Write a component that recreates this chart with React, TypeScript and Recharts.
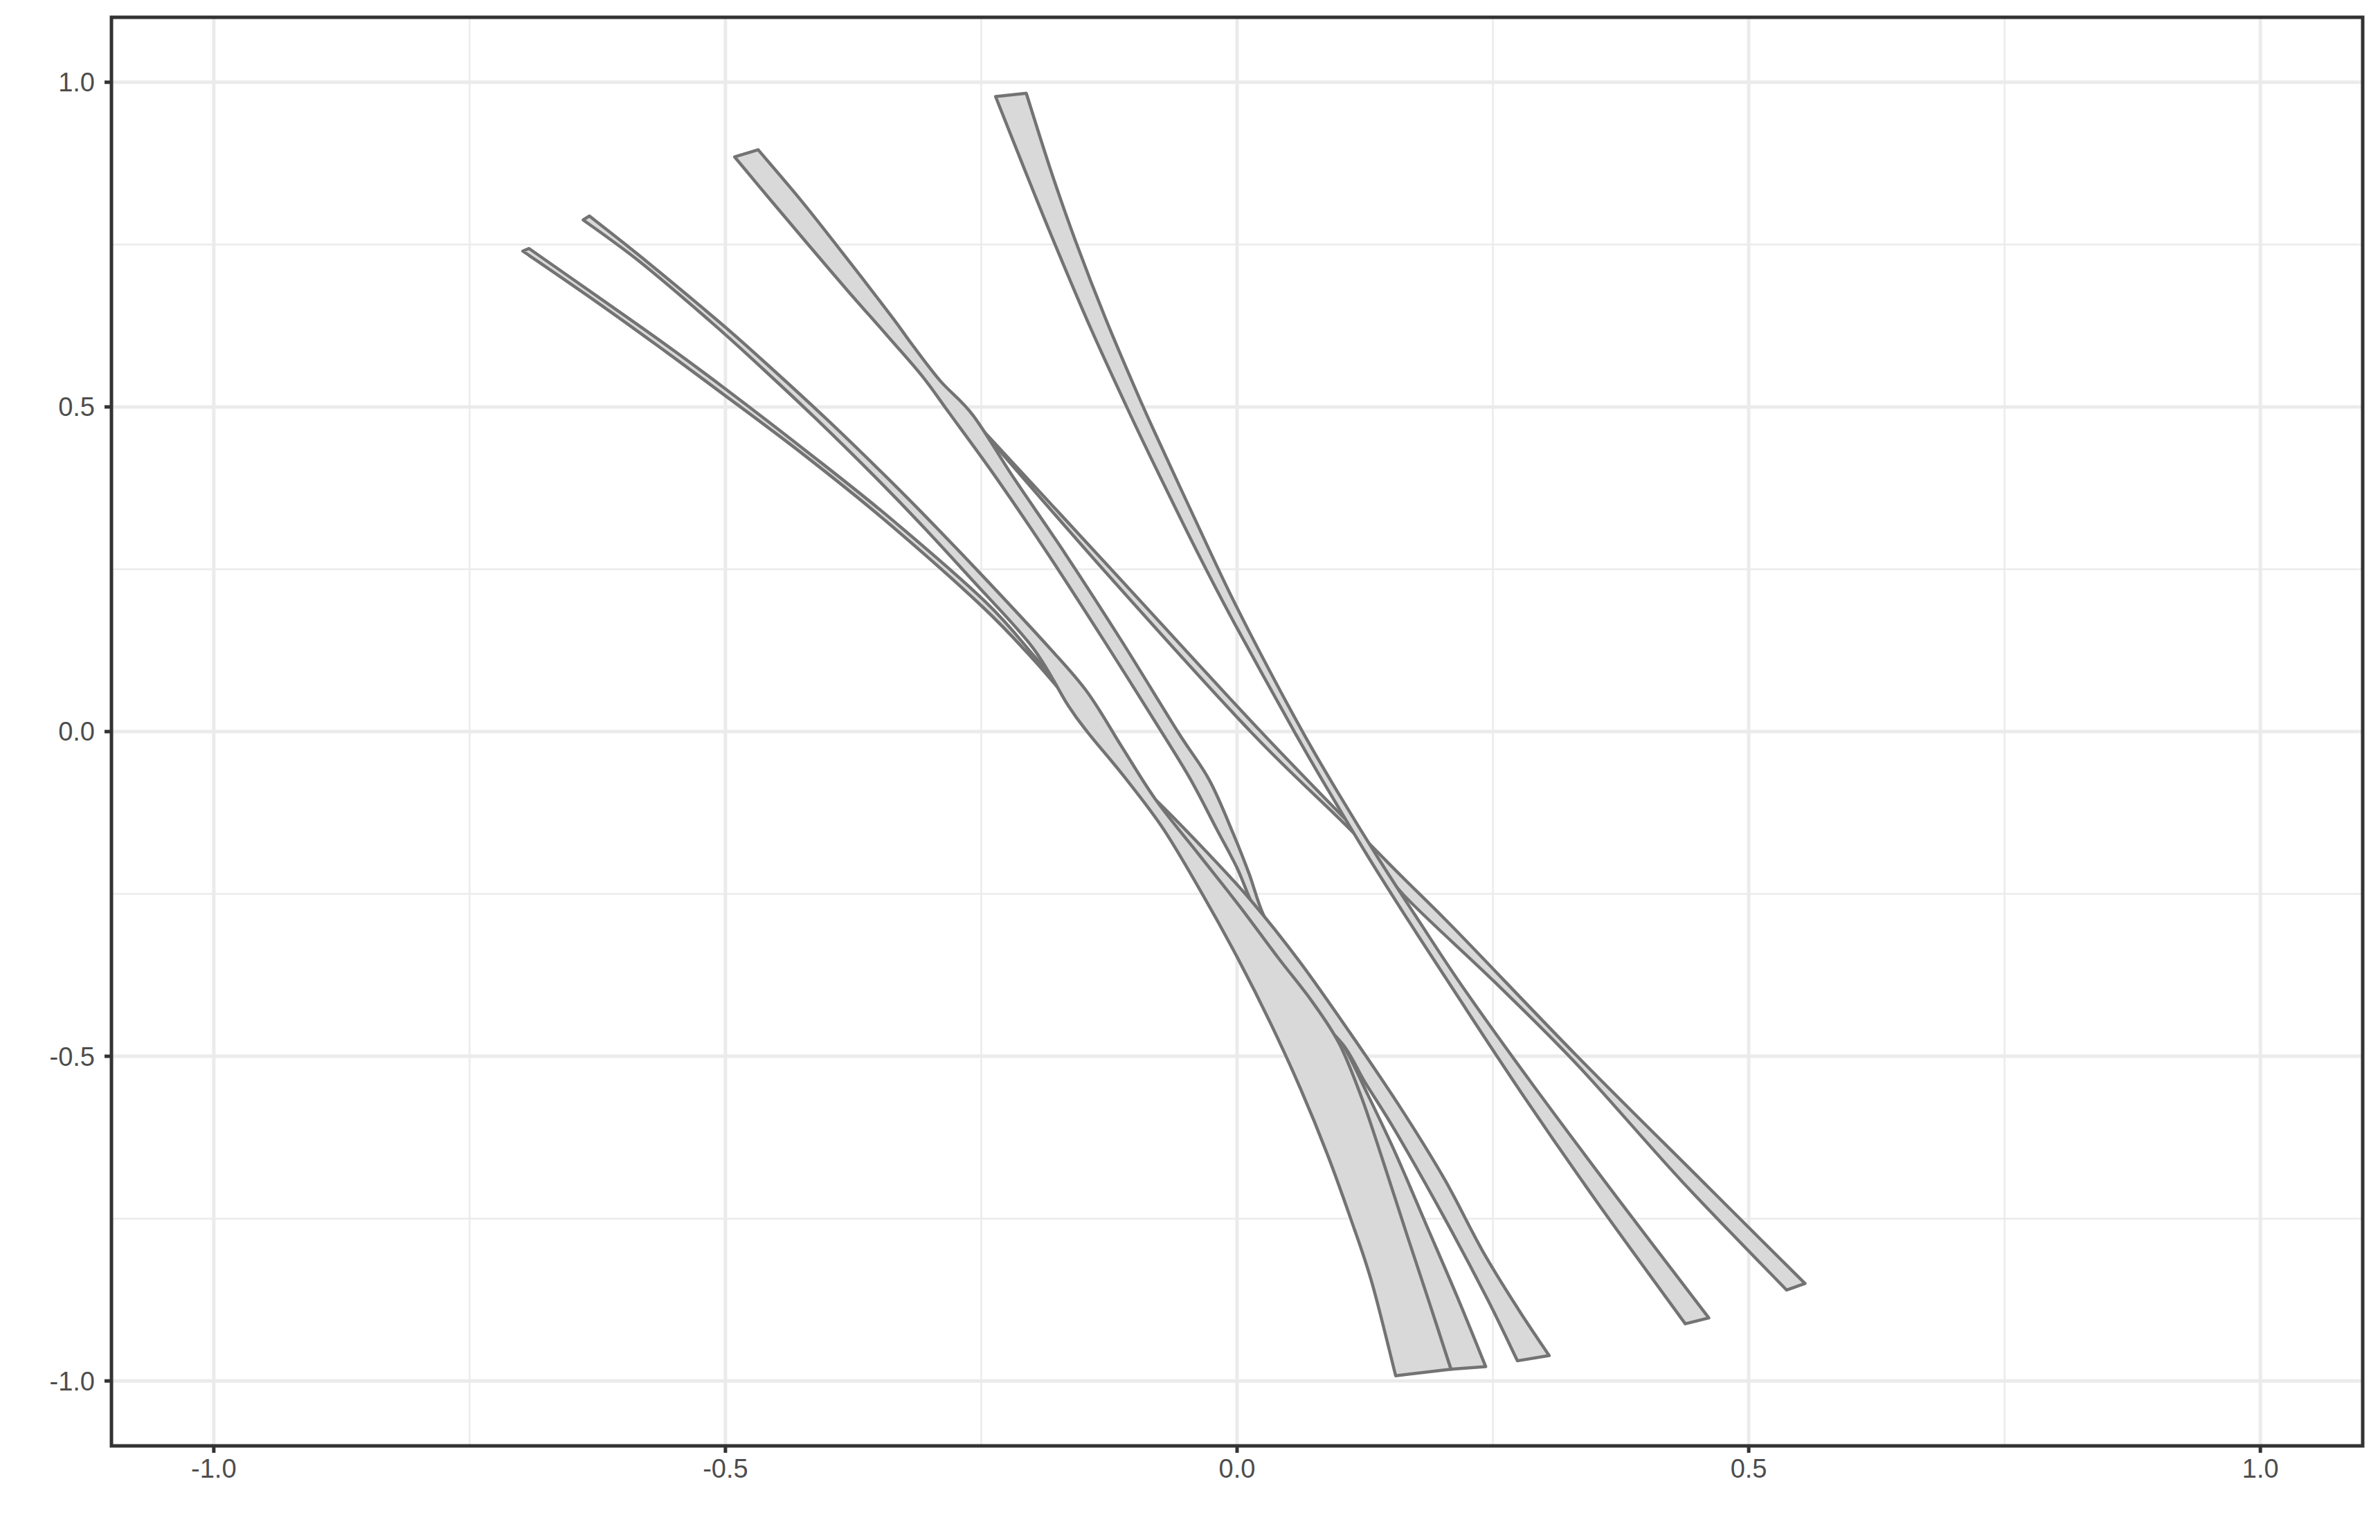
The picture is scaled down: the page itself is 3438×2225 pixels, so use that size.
import React from 'react';
import { ScatterChart, Scatter, XAxis, YAxis, CartesianGrid, ReferenceArea } from 'recharts';

const MAJOR_BREAKS = [-1, -0.5, 0, 0.5, 1];
const MINOR_BREAKS = [-0.75, -0.25, 0.25, 0.75];
const LIMITS: [number, number] = [-1.1, 1.1];

type Pt = [number, number];
interface Ribbon { down: Pt[]; up: Pt[] }

// outlines: one edge top -> bottom, the other bottom -> top
const ribbonT3B5: Ribbon = {
  down: [[-0.262, 0.487], [-0.123, 0.25], [0.025, -0.003], [0.147, -0.201], [0.212, -0.303], [0.333, -0.501], [0.455, -0.693], [0.555, -0.85]],
  up: [[0.537, -0.86], [0.435, -0.693], [0.333, -0.514], [0.252, -0.386], [0.163, -0.252], [0.118, -0.163], [0.015, -0.003], [-0.131, 0.25], [-0.262, 0.487]],
};

const ribbonT4B4: Ribbon = {
  down: [[-0.236, 0.978], [-0.209, 0.871], [-0.181, 0.762], [-0.143, 0.621], [-0.104, 0.487], [-0.076, 0.395], [-0.04, 0.28], [-0.003, 0.168],
    [0.057, -0.003], [0.089, -0.09], [0.127, -0.19], [0.167, -0.29], [0.212, -0.399], [0.279, -0.559], [0.352, -0.725], [0.438, -0.912]],
  up: [[0.461, -0.903], [0.372, -0.719], [0.29, -0.546], [0.223, -0.399], [0.177, -0.29], [0.138, -0.195], [0.099, -0.095], [0.065, -0.003],
    [0.028, 0.105], [-0.007, 0.213], [-0.042, 0.33], [-0.077, 0.449], [-0.097, 0.519], [-0.128, 0.634], [-0.158, 0.756], [-0.182, 0.864], [-0.206, 0.983]],
};

const ribbonT3B2: Ribbon = {
  down: [[-0.491, 0.885], [-0.455, 0.817], [-0.418, 0.748], [-0.38, 0.678], [-0.342, 0.61], [-0.308, 0.548], [-0.281, 0.49], [-0.235, 0.39],
    [-0.185, 0.274], [-0.13, 0.14], [-0.074, 0.0], [-0.045, -0.075], [-0.02, -0.15], [0.0, -0.21], [0.013, -0.259], [0.04, -0.35],
    [0.07, -0.44], [0.1, -0.53], [0.13, -0.64], [0.16, -0.76], [0.184, -0.87], [0.209, -0.982]],
  up: [[0.243, -0.978], [0.215, -0.87], [0.185, -0.76], [0.155, -0.65], [0.128, -0.56], [0.103, -0.481], [0.075, -0.42], [0.05, -0.35],
    [0.026, -0.283], [0.012, -0.22], [-0.003, -0.16], [-0.027, -0.075], [-0.058, 0.0], [-0.113, 0.14], [-0.168, 0.274], [-0.218, 0.39],
    [-0.258, 0.487], [-0.29, 0.54], [-0.318, 0.597], [-0.336, 0.636], [-0.378, 0.722], [-0.424, 0.814], [-0.468, 0.896]],
};

const ribbonT1B3: Ribbon = {
  down: [[-0.692, 0.744], [-0.625, 0.67], [-0.562, 0.6], [-0.501, 0.529], [-0.421, 0.432], [-0.34, 0.33], [-0.246, 0.2], [-0.197, 0.114],
    [-0.16, 0.045], [-0.125, -0.02], [-0.097, -0.082], [-0.079, -0.106], [-0.03, -0.185], [0.013, -0.259], [0.061, -0.354], [0.11, -0.463],
    [0.16, -0.58], [0.203, -0.69], [0.24, -0.8], [0.275, -0.89], [0.305, -0.961]],
  up: [[0.274, -0.969], [0.244, -0.872], [0.203, -0.75], [0.155, -0.616], [0.125, -0.54], [0.103, -0.481], [0.065, -0.42], [0.02, -0.34],
    [-0.025, -0.25], [-0.064, -0.15], [-0.1, -0.08], [-0.13, -0.015], [-0.163, 0.045], [-0.199, 0.111], [-0.25, 0.194], [-0.343, 0.324],
    [-0.424, 0.427], [-0.505, 0.523], [-0.566, 0.594], [-0.628, 0.664], [-0.698, 0.74]],
};

const ribbonT2B1: Ribbon = {
  down: [[-0.633, 0.794], [-0.577, 0.724], [-0.504, 0.628], [-0.454, 0.558], [-0.401, 0.481], [-0.342, 0.391], [-0.298, 0.321], [-0.244, 0.232],
    [-0.184, 0.13], [-0.146, 0.06], [-0.112, -0.025], [-0.079, -0.106], [-0.037, -0.19], [0.003, -0.27], [0.04, -0.348], [0.073, -0.415],
    [0.1, -0.481], [0.122, -0.565], [0.144, -0.668], [0.166, -0.775], [0.188, -0.88], [0.209, -0.982]],
  up: [[0.155, -0.992], [0.132, -0.85], [0.111, -0.75], [0.088, -0.65], [0.062, -0.55], [0.033, -0.45], [0.001, -0.35], [-0.034, -0.25],
    [-0.072, -0.15], [-0.11, -0.07], [-0.145, -0.003], [-0.165, 0.04], [-0.2, 0.13], [-0.258, 0.232], [-0.31, 0.321], [-0.353, 0.391],
    [-0.411, 0.481], [-0.463, 0.558], [-0.512, 0.628], [-0.584, 0.724], [-0.639, 0.788]],
};

// drawing order: first is lowest
const RIBBONS = [ribbonT3B5, ribbonT4B4, ribbonT3B2, ribbonT1B3, ribbonT2B1];

const FILL = '#D9D9D9';
const OUTLINE = '#737373';
const GRID = '#EBEBEB';
const INK = '#333333';

type XY = { x: number; y: number };

// smooth pass through the scaled points of one edge
const through = (pts: XY[]) => {
  let d = '';
  for (let i = 0; i < pts.length - 1; i++) {
    const p0 = pts[i - 1] || pts[i];
    const p1 = pts[i];
    const p2 = pts[i + 1];
    const p3 = pts[i + 2] || p2;
    d += ` C${p1.x + (p2.x - p0.x) / 6},${p1.y + (p2.y - p0.y) / 6} ${p2.x - (p3.x - p1.x) / 6},${p2.y - (p3.y - p1.y) / 6} ${p2.x},${p2.y}`;
  }
  return d;
};

const ribbonShape = (split: number) => (props: any) => {
  const pts: XY[] = props.points || [];
  if (pts.length < 2) return <g />;
  const a = pts.slice(0, split);
  const b = pts.slice(split);
  const d = `M${a[0].x},${a[0].y}${through(a)} L${b[0].x},${b[0].y}${through(b)} Z`;
  return <path d={d} fill={FILL} stroke={OUTLINE} strokeWidth={4.5} strokeLinejoin="round" />;
};

const fmt = (v: number) => v.toFixed(1);

export default function App() {
  const tickStyle = { fill: '#4D4D4D', fontSize: 38, fontFamily: '"Liberation Sans", Arial, sans-serif' };

  return (
    <div style={{ position: 'absolute', left: 0, top: 0, width: 3438, height: 2225, background: '#fff' }}>
      <ScatterChart width={3438} height={2225} margin={{ top: 25, right: 25, bottom: 0, left: 0 }}>
        <CartesianGrid stroke={GRID} strokeWidth={2.5} horizontalValues={MINOR_BREAKS} verticalValues={MINOR_BREAKS} />
        <CartesianGrid stroke={GRID} strokeWidth={5} horizontalValues={MAJOR_BREAKS} verticalValues={MAJOR_BREAKS} />
        <XAxis
          type="number"
          dataKey="x"
          domain={LIMITS}
          ticks={MAJOR_BREAKS}
          tickFormatter={fmt}
          allowDataOverflow
          height={136}
          axisLine={false}
          tickSize={10}
          tickMargin={9}
          tickLine={{ stroke: INK, strokeWidth: 5 }}
          tick={tickStyle}
        />
        <YAxis
          type="number"
          dataKey="y"
          domain={LIMITS}
          ticks={MAJOR_BREAKS}
          tickFormatter={fmt}
          allowDataOverflow
          width={161}
          axisLine={false}
          tickSize={10}
          tickMargin={14}
          tickLine={{ stroke: INK, strokeWidth: 5 }}
          tick={tickStyle}
        />
        {RIBBONS.map((r, i) => (
          <Scatter
            key={i}
            data={[...r.down, ...r.up].map(([x, y]) => ({ x, y }))}
            isAnimationActive={false}
            legendType="none"
            line={ribbonShape(r.down.length)}
            lineType="joint"
            shape={() => <g />}
          />
        ))}
        <ReferenceArea x1={LIMITS[0]} x2={LIMITS[1]} y1={LIMITS[0]} y2={LIMITS[1]} fill="none" stroke={INK} strokeWidth={5} fillOpacity={0} />
      </ScatterChart>
    </div>
  );
}
